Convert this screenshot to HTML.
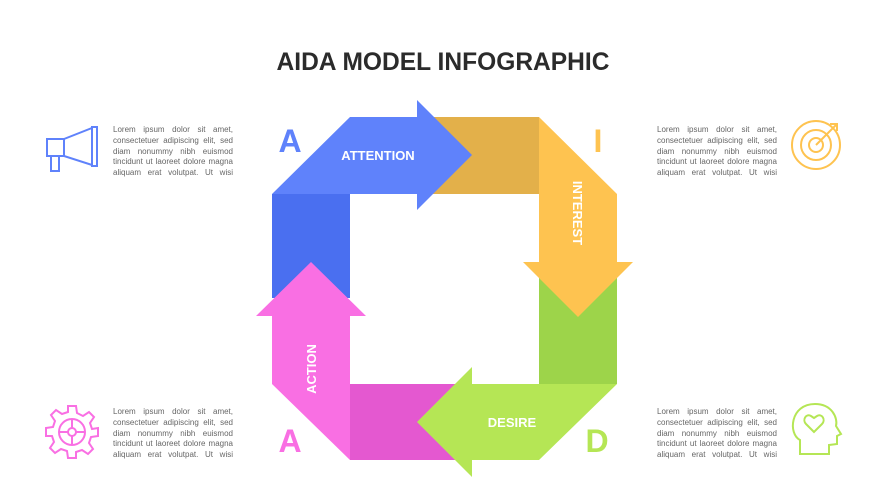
<!DOCTYPE html>
<html><head><meta charset="utf-8"><style>
body{margin:0;width:889px;height:500px;background:#fff;position:relative;overflow:hidden;font-family:"Liberation Sans",sans-serif}
.t{position:absolute;width:120px;font-size:8px;line-height:10.8px;color:#666;text-align:justify;text-align-last:justify}
</style></head><body>
<svg width="889" height="500" style="position:absolute;left:0;top:0">
<text x="443" y="70" text-anchor="middle" font-family="Liberation Sans" font-weight="bold" font-size="25" fill="#2b2b2b" textLength="333" lengthAdjust="spacingAndGlyphs">AIDA MODEL INFOGRAPHIC</text>
<rect x="417" y="117" width="122" height="77" fill="#e3b04a"/>
<rect x="539" y="278" width="78" height="106" fill="#9dd44a"/>
<rect x="350" y="384" width="122" height="76" fill="#e458d0"/>
<rect x="272" y="194" width="78" height="104" fill="#4a6ff0"/>
<polygon points="272,194 350,117 417,117 417,100 472,155 417,210 417,194" fill="#5f82fb"/>
<polygon points="539,117 617,194 617,262 633,262 578,317 523,262 539,262" fill="#fec350"/>
<polygon points="617,384 539,460 472,460 472,477 417,422 472,367 472,384" fill="#b5e655"/>
<polygon points="350,460 272,384 272,316 256,316 311,262 366,316 350,316" fill="#f96fe3"/>
<g font-family="Liberation Sans" font-weight="bold" font-size="13" fill="#fff">
<text x="378" y="160" text-anchor="middle">ATTENTION</text>
<text x="512" y="427" text-anchor="middle">DESIRE</text>
<text transform="translate(573,213) rotate(90)" text-anchor="middle">INTEREST</text>
<text transform="translate(316,369) rotate(-90)" text-anchor="middle">ACTION</text>
</g>
<g font-family="Liberation Sans" font-weight="bold" font-size="32">
<text x="290" y="152" text-anchor="middle" fill="#5f82fb">A</text>
<text x="598" y="152" text-anchor="middle" fill="#fec350">I</text>
<text x="290" y="452" text-anchor="middle" fill="#f96fe3">A</text>
<text x="597" y="452" text-anchor="middle" fill="#b5e655">D</text>
</g>
<g fill="none" stroke="#5f82fb" stroke-width="2">
<rect x="47" y="139" width="17" height="17"/>
<rect x="51" y="156" width="8" height="15"/>
<polygon points="64,139 92,128 92,165 64,156"/>
<rect x="92" y="127" width="5" height="39"/>
</g>
<g fill="none" stroke="#fec350" stroke-width="2">
<circle cx="816" cy="145" r="24"/><circle cx="816" cy="145" r="15"/><circle cx="816" cy="145" r="7"/>
<line x1="816" y1="145" x2="837" y2="124"/><polyline points="830,124 837,124 837,131"/>
</g>
<g fill="none" stroke="#f96fe3" stroke-width="2" transform="translate(72,432)">
<path d="M-4,-26 L4,-26 L5,-19 L11,-16 L17,-20 L22,-15 L18,-9 L20,-3 L26,-4 L26,4 L19,5 L17,11 L21,17 L16,22 L10,18 L4,20 L4,26 L-4,26 L-5,19 L-11,17 L-17,21 L-22,16 L-18,10 L-20,4 L-26,4 L-26,-4 L-19,-5 L-17,-11 L-21,-17 L-16,-22 L-10,-18 L-4,-20 Z"/>
<circle r="13"/><circle r="4"/>
<line x1="0" y1="-4" x2="0" y2="-13"/><line x1="0" y1="4" x2="0" y2="13"/><line x1="-4" y1="0" x2="-13" y2="0"/><line x1="4" y1="0" x2="13" y2="0"/>
</g>
<g fill="none" stroke="#b5e655" stroke-width="2">
<path d="M800,454 L800,440 C788,434 790,404 815,404 C832,404 838,418 836,426 L841,434 L837,436 L837,444 L829,445 L829,454 Z"/>
<path d="M814,432 L806,424 C802,420 806,413 811,416 L814,418 L817,416 C822,413 826,420 822,424 Z"/>
</g>
</svg>
<div class="t" style="left:113px;top:125px">Lorem ipsum dolor sit amet, consectetuer adipiscing elit, sed diam nonummy nibh euismod tincidunt ut laoreet dolore magna aliquam erat volutpat. Ut wisi</div>
<div class="t" style="left:657px;top:125px">Lorem ipsum dolor sit amet, consectetuer adipiscing elit, sed diam nonummy nibh euismod tincidunt ut laoreet dolore magna aliquam erat volutpat. Ut wisi</div>
<div class="t" style="left:113px;top:407px">Lorem ipsum dolor sit amet, consectetuer adipiscing elit, sed diam nonummy nibh euismod tincidunt ut laoreet dolore magna aliquam erat volutpat. Ut wisi</div>
<div class="t" style="left:657px;top:407px">Lorem ipsum dolor sit amet, consectetuer adipiscing elit, sed diam nonummy nibh euismod tincidunt ut laoreet dolore magna aliquam erat volutpat. Ut wisi</div>
</body></html>
